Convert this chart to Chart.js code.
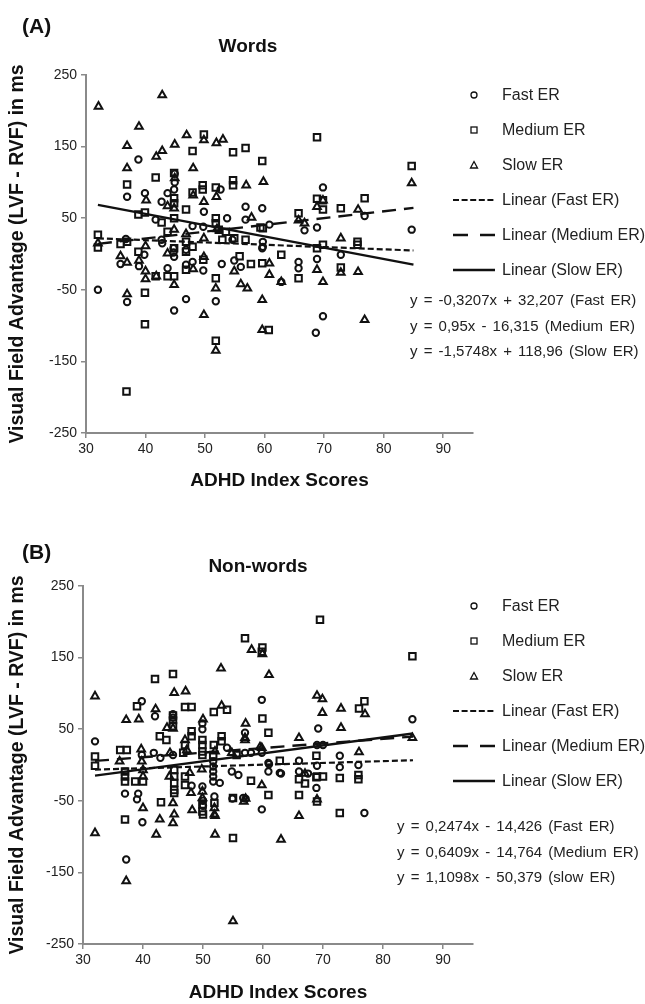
<!DOCTYPE html>
<html>
<head>
<meta charset="utf-8">
<script src="https://cdn.jsdelivr.net/npm/chart.js@4.4.1/dist/chart.umd.min.js"></script>
<style>
  html,body{margin:0;padding:0;background:#fff;}
  body{width:645px;height:1004px;position:relative;overflow:hidden;font-family:'Liberation Sans',Arial,Helvetica,sans-serif;color:#111;}
  .panel{position:absolute;left:0;width:645px;}
  .lbl{position:absolute;font-weight:bold;white-space:nowrap;}
  .leg{position:absolute;font-size:16px;white-space:nowrap;line-height:18px;color:#222;}
  .eq{position:absolute;font-size:15px;white-space:nowrap;line-height:18px;color:#222;word-spacing:2px;}
  svg{position:absolute;overflow:visible;}
</style>
</head>
<body>
<div class="panel" style="top:0;height:500px;"><canvas id="chartA"></canvas></div>
<div class="panel" style="top:500px;height:504px;"><canvas id="chartB"></canvas></div>
<div id="overlay"></div>
<script>
// ---------- DATA ----------
const xTicks = [30, 40, 50, 60, 70, 80, 90];
const yTicks = [-250, -150, -50, 50, 150, 250];
const legendLabels = ['Fast ER', 'Medium ER', 'Slow ER', 'Linear (Fast ER)', 'Linear (Medium ER)', 'Linear (Slow ER)'];
const wordsEquations = ['y = -0,3207x + 32,207 (Fast ER)', 'y = 0,95x - 16,315 (Medium ER)', 'y = -1,5748x + 118,96 (Slow ER)'];
const nonwordsEquations = ['y = 0,2474x - 14,426 (Fast ER)', 'y = 0,6409x - 14,764 (Medium ER)', 'y = 1,1098x - 50,379 (slow ER)'];

// Panel A: Words
const wordsFast = [[32,-50],[35.8,-14],[36.7,21],[36.9,80],[36.9,-67],[38.8,132],[38.9,-17],[39.8,-1],[39.9,85],[41.7,48],[42.7,73],[42.7,20],[42.8,15],[43.7,85],[43.7,-20],[44.7,2],[44.7,8],[44.8,90],[44.9,112],[44.9,100],[44.8,-4],[44.8,-79],[46.8,6],[46.8,-15],[46.8,-63],[47.9,39],[47.9,-11],[49.7,38],[49.7,-23],[49.8,59],[51.8,-66],[52.6,90],[52.8,-14],[53.7,50],[54.6,20],[54.9,-9],[56,-18],[56.8,66],[56.8,48],[59.6,64],[59.6,8],[59.7,17],[59.7,10],[60.8,41],[62.8,-39],[65.7,-11],[65.7,-20],[66.7,33],[68.6,-110],[68.8,37],[68.8,-7],[69.8,93],[69.8,-87],[72.8,-1],[76.8,53],[84.7,34]];
const wordsMedium = [[32,27],[32,9],[35.8,14],[36.8,-192],[36.9,97],[36.9,17],[38.8,55],[38.8,3],[39.9,58],[39.9,-54],[39.9,-98],[41.7,107],[41.7,-31],[42.7,44],[43.7,31],[43.7,-31],[44.8,113],[44.8,78],[44.8,71],[44.8,50],[44.8,8],[44.8,-31],[46.8,62],[46.8,17],[46.8,3],[46.8,-22],[47.9,144],[47.9,86],[47.9,10],[49.6,96],[49.6,90],[49.7,-8],[49.8,167],[51.8,93],[51.8,50],[51.8,43],[51.8,-34],[51.8,-121],[52.3,34],[52.9,20],[53.5,31],[54.7,142],[54.7,103],[54.7,96],[54.9,22],[55.8,-3],[56.8,148],[56.8,20],[57.7,-14],[59.3,37],[59.6,130],[59.6,-13],[59.7,36],[60.7,-106],[62.8,-1],[65.7,57],[65.7,-34],[68.8,163],[68.8,77],[68.8,8],[69.8,75],[69.8,62],[69.8,13],[72.8,64],[72.8,-19],[75.6,17],[75.6,13],[76.8,78],[84.7,123]];
const wordsSlow = [[32,15],[32.1,206],[35.8,-3],[36.9,151],[36.9,120],[36.9,-12],[36.9,-56],[38.9,178],[38.9,-9],[40,11],[40,-24],[40,-35],[40.1,75],[41.8,136],[41.8,-31],[42.8,222],[42.8,144],[43.7,67],[43.7,1],[44.8,64],[44.8,34],[44.8,-43],[44.9,153],[44.9,106],[46.8,28],[46.9,166],[48,120],[48,82],[48,-21],[49.8,159],[49.8,73],[49.8,22],[49.8,-4],[49.8,-85],[51.8,-48],[51.8,-135],[51.9,155],[51.9,80],[52,35],[53,160],[54.9,-24],[56,-42],[56.9,96],[57.1,-48],[57.8,51],[59.6,-64],[59.6,-106],[59.8,101],[60.8,-13],[60.8,-29],[62.8,-39],[65.7,47],[66.7,43],[68.8,66],[68.8,-22],[69.8,75],[69.8,-39],[72.8,22],[72.8,-26],[75.7,62],[75.7,-25],[76.8,-92],[84.7,99]];
// trend-line end points (x = 32 and x = 85)
const wordsTrendFast = [[32,21.9],[85,4.9]];
const wordsTrendMedium = [[32,14.1],[85,64.4]];
const wordsTrendSlow = [[32,68.6],[85,-14.9]];

// Panel B: Non-words
const nonwordsFast = [[32,33],[37,-40],[37.2,-132],[39,-48],[39.2,-40],[39.8,89],[39.8,14],[39.9,-80],[41.8,17],[42,68],[42.9,10],[45,71],[45,66],[45,14],[48.1,-29],[49.9,58],[49.9,50],[49.9,-30],[50,-50],[50,-57],[51.7,5],[51.7,-2],[51.7,-9],[51.7,-16],[51.7,-23],[51.9,-44],[52.8,-25],[54,24],[54.8,-9],[54.9,-47],[55.9,-14],[56.7,-46],[57,45],[57,17],[57.1,-47],[58,17],[59.8,91],[59.8,17],[59.8,-62],[60.9,3],[60.9,-9],[61,1],[62.8,-11],[63,-12],[66,6],[66,-9],[67.5,-12],[68.9,-32],[69,28],[69,-1],[69.2,51],[70,28],[72.8,13],[72.8,-3],[75.9,0],[76.9,-67],[84.9,64]];
const nonwordsMedium = [[32,12],[32,-1],[36.2,21],[37,-9],[37,-16],[37,-23],[37,-76],[37.3,21],[38.7,-23],[39,82],[40,-23],[42,120],[42.8,40],[43,-52],[43.9,35],[45,127],[45,69],[45,63],[45,54],[45.2,-7],[45.2,-16],[45.2,-25],[45.2,-35],[45.2,-39],[46.7,17],[47,81],[47,28],[47,-16],[47,-28],[48.1,81],[48.1,47],[48.1,40],[49.9,35],[49.9,28],[49.9,19],[49.9,14],[49.9,-55],[49.9,-65],[50,-69],[51.7,14],[51.8,74],[51.8,28],[51.9,-53],[53.1,40],[53.1,33],[54,77],[55,-46],[55,-102],[55.6,14],[57,177],[58,-22],[59.8,158],[59.9,164],[59.9,65],[60.9,45],[60.9,-42],[62.8,6],[66,-20],[66,-42],[67,-26],[68.9,-17],[68.9,13],[69,-16],[69,-51],[69.5,203],[70,-16],[72.8,-18],[72.8,-67],[75.9,-14],[75.9,-20],[76,79],[76.9,89],[84.9,152]];
const nonwordsSlow = [[32,96],[32,-95],[36.1,5],[37.2,63],[37.2,-162],[39.3,64],[39.7,22],[39.8,5],[40,-7],[40,-16],[40,-60],[42.1,78],[42.2,-97],[42.8,-76],[44,52],[44.4,-16],[44.5,17],[45,51],[45,-53],[45,-81],[45.2,101],[45.2,-69],[47,35],[47.1,103],[47.3,21],[47.8,-11],[48,-39],[48.2,-63],[49.8,-6],[49.9,-37],[49.9,-46],[50,64],[51.9,-60],[51.9,-69],[52,19],[52,-71],[52,-97],[53,135],[53.1,83],[54.8,17],[55,-218],[56.8,-51],[57,38],[57,35],[57.1,58],[57.1,-47],[58.1,161],[59.5,25],[59.8,24],[59.8,-28],[59.9,155],[61,126],[63,-104],[66,38],[66,-71],[67,-12],[69,97],[69,-48],[69.9,92],[69.9,73],[73,79],[73,52],[76,18],[77,71],[84.9,38]];
const nonwordsTrendFast = [[32,-6.5],[85,6.6]];
const nonwordsTrendMedium = [[32,5.7],[85,39.7]];
const nonwordsTrendSlow = [[32,-14.9],[85,44.0]];

// ---------- CHARTS ----------
const INK = '#111';
const AXIS = '#8a8a8a';
const FONT = "'Liberation Sans', Arial, Helvetica, sans-serif";
const toXY = a => a.map(p => ({x: p[0], y: p[1]}));

function pointSet(label, data, style, radius) {
  return {type: 'scatter', label, data: toXY(data), pointStyle: style, pointRadius: radius,
    pointHoverRadius: radius, borderColor: INK, backgroundColor: 'rgba(0,0,0,0)',
    pointBorderWidth: 2, borderWidth: 2, showLine: false, order: 2};
}
function trendSet(label, data, dash, width) {
  return {type: 'scatter', label, data: toXY(data), showLine: true, pointRadius: 0,
    borderColor: INK, backgroundColor: INK, borderWidth: width, borderDash: dash, order: 1};
}

function makeChart(id, sets, geom) {
  const ctx = document.getElementById(id);
  return new Chart(ctx, {
    type: 'scatter',
    data: {datasets: sets},
    options: {
      responsive: true, maintainAspectRatio: false, animation: false, devicePixelRatio: 1,
      layout: {padding: {top: geom.top, left: 0, right: geom.right, bottom: 0}},
      plugins: {legend: {display: false}, tooltip: {enabled: false}, title: {display: false}},
      scales: {
        x: {
          type: 'linear', min: 30, max: 95,
          afterBuildTicks: s => { s.ticks = xTicks.map(v => ({value: v})); },
          afterFit: s => { s.height = geom.xh; },
          grid: {display: true, drawOnChartArea: false, drawTicks: true, tickLength: 5, color: AXIS, lineWidth: 1.5},
          border: {display: true, color: AXIS, width: 2},
          ticks: {font: {family: FONT, size: 14}, color: '#222', padding: 3, maxRotation: 0, autoSkip: false},
          title: {display: true, text: 'ADHD Index Scores', font: {family: FONT, size: 19, weight: 'bold'},
                  color: INK, padding: {top: 0, bottom: geom.xtp}}
        },
        y: {
          type: 'linear', min: -250, max: 250,
          afterBuildTicks: s => { s.ticks = yTicks.map(v => ({value: v})); },
          afterFit: s => { s.width = geom.yw; },
          grid: {display: true, drawOnChartArea: false, drawTicks: true, tickLength: 5, color: AXIS, lineWidth: 1.5},
          border: {display: true, color: AXIS, width: 2},
          ticks: {font: {family: FONT, size: 14}, color: '#222', padding: 4, autoSkip: false},
          title: {display: true, text: 'Visual Field Advantage (LVF - RVF) in ms', font: {family: FONT, size: 19.5, weight: 'bold'},
                  color: INK, padding: {top: 6, bottom: 0}}
        }
      }
    }
  });
}

makeChart('chartA', [
  trendSet('Linear (Fast ER)', wordsTrendFast, [6, 3], 2.2),
  trendSet('Linear (Medium ER)', wordsTrendMedium, [14, 8], 2.4),
  trendSet('Linear (Slow ER)', wordsTrendSlow, [], 2.4),
  pointSet('Fast ER', wordsFast, 'circle', 3.2),
  pointSet('Medium ER', wordsMedium, 'rect', 4.6),
  pointSet('Slow ER', wordsSlow, 'triangle', 4.4)
], {top: 75, right: 172, xh: 67, yw: 86, xtp: 8});

makeChart('chartB', [
  trendSet('Linear (Fast ER)', nonwordsTrendFast, [6, 3], 2.2),
  trendSet('Linear (Medium ER)', nonwordsTrendMedium, [14, 8], 2.4),
  trendSet('Linear (Slow ER)', nonwordsTrendSlow, [], 2.4),
  pointSet('Fast ER', nonwordsFast, 'circle', 3.2),
  pointSet('Medium ER', nonwordsMedium, 'rect', 4.6),
  pointSet('Slow ER', nonwordsSlow, 'triangle', 4.4)
], {top: 86, right: 172, xh: 60, yw: 83, xtp: 0});

// ---------- TITLES, LEGENDS, EQUATIONS ----------
const ov = document.getElementById('overlay');
function addText(cls, text, x, y, style) {
  const d = document.createElement('div');
  d.className = cls; d.textContent = text;
  d.style.left = x + 'px'; d.style.top = y + 'px';
  Object.assign(d.style, style || {});
  ov.appendChild(d);
  return d;
}
function centered(d) { d.style.transform = 'translate(-50%, -50%)'; }
function markerSvg(kind, cx, cy) {
  const ns = 'http://www.w3.org/2000/svg';
  const svg = document.createElementNS(ns, 'svg');
  svg.setAttribute('width', '50'); svg.setAttribute('height', '12');
  svg.style.left = (cx - 25) + 'px'; svg.style.top = (cy - 6) + 'px';
  let el;
  if (kind === 0) { el = document.createElementNS(ns, 'circle'); el.setAttribute('cx', 25); el.setAttribute('cy', 6); el.setAttribute('r', 3); }
  else if (kind === 1) { el = document.createElementNS(ns, 'rect'); el.setAttribute('x', 22); el.setAttribute('y', 3); el.setAttribute('width', 6); el.setAttribute('height', 6); }
  else if (kind === 2) { el = document.createElementNS(ns, 'polygon'); el.setAttribute('points', '25,2.5 28.5,9 21.5,9'); }
  else {
    el = document.createElementNS(ns, 'line');
    el.setAttribute('x1', 4); el.setAttribute('x2', 46); el.setAttribute('y1', 6); el.setAttribute('y2', 6);
    el.setAttribute('stroke-width', kind === 3 ? 2.2 : 2.6);
    if (kind === 3) el.setAttribute('stroke-dasharray', '6 2.6');
    if (kind === 4) el.setAttribute('stroke-dasharray', '15 12');
  }
  el.setAttribute('stroke', INK);
  if (kind <= 2) { el.setAttribute('fill', 'none'); el.setAttribute('stroke-width', 1.3); }
  svg.appendChild(el);
  ov.appendChild(svg);
}
function legendBlock(y0, eqs, eqX, eqY0) {
  legendLabels.forEach((t, i) => {
    const cy = y0 + i * 35;
    markerSvg(i, 474, cy);
    addText('leg', t, 502, cy - 9);
  });
  eqs.forEach((t, i) => addText('eq', t, eqX, eqY0 + i * 25.5 - 9));
}

addText('lbl', '(A)', 22, 14, {fontSize: '21px'});
centered(addText('lbl', 'Words', 248, 46, {fontSize: '19px'}));
legendBlock(95, wordsEquations, 410, 300);

addText('lbl', '(B)', 22, 540, {fontSize: '21px'});
centered(addText('lbl', 'Non-words', 258, 566, {fontSize: '19px'}));
legendBlock(606, nonwordsEquations, 397, 826);
</script>
</body>
</html>
